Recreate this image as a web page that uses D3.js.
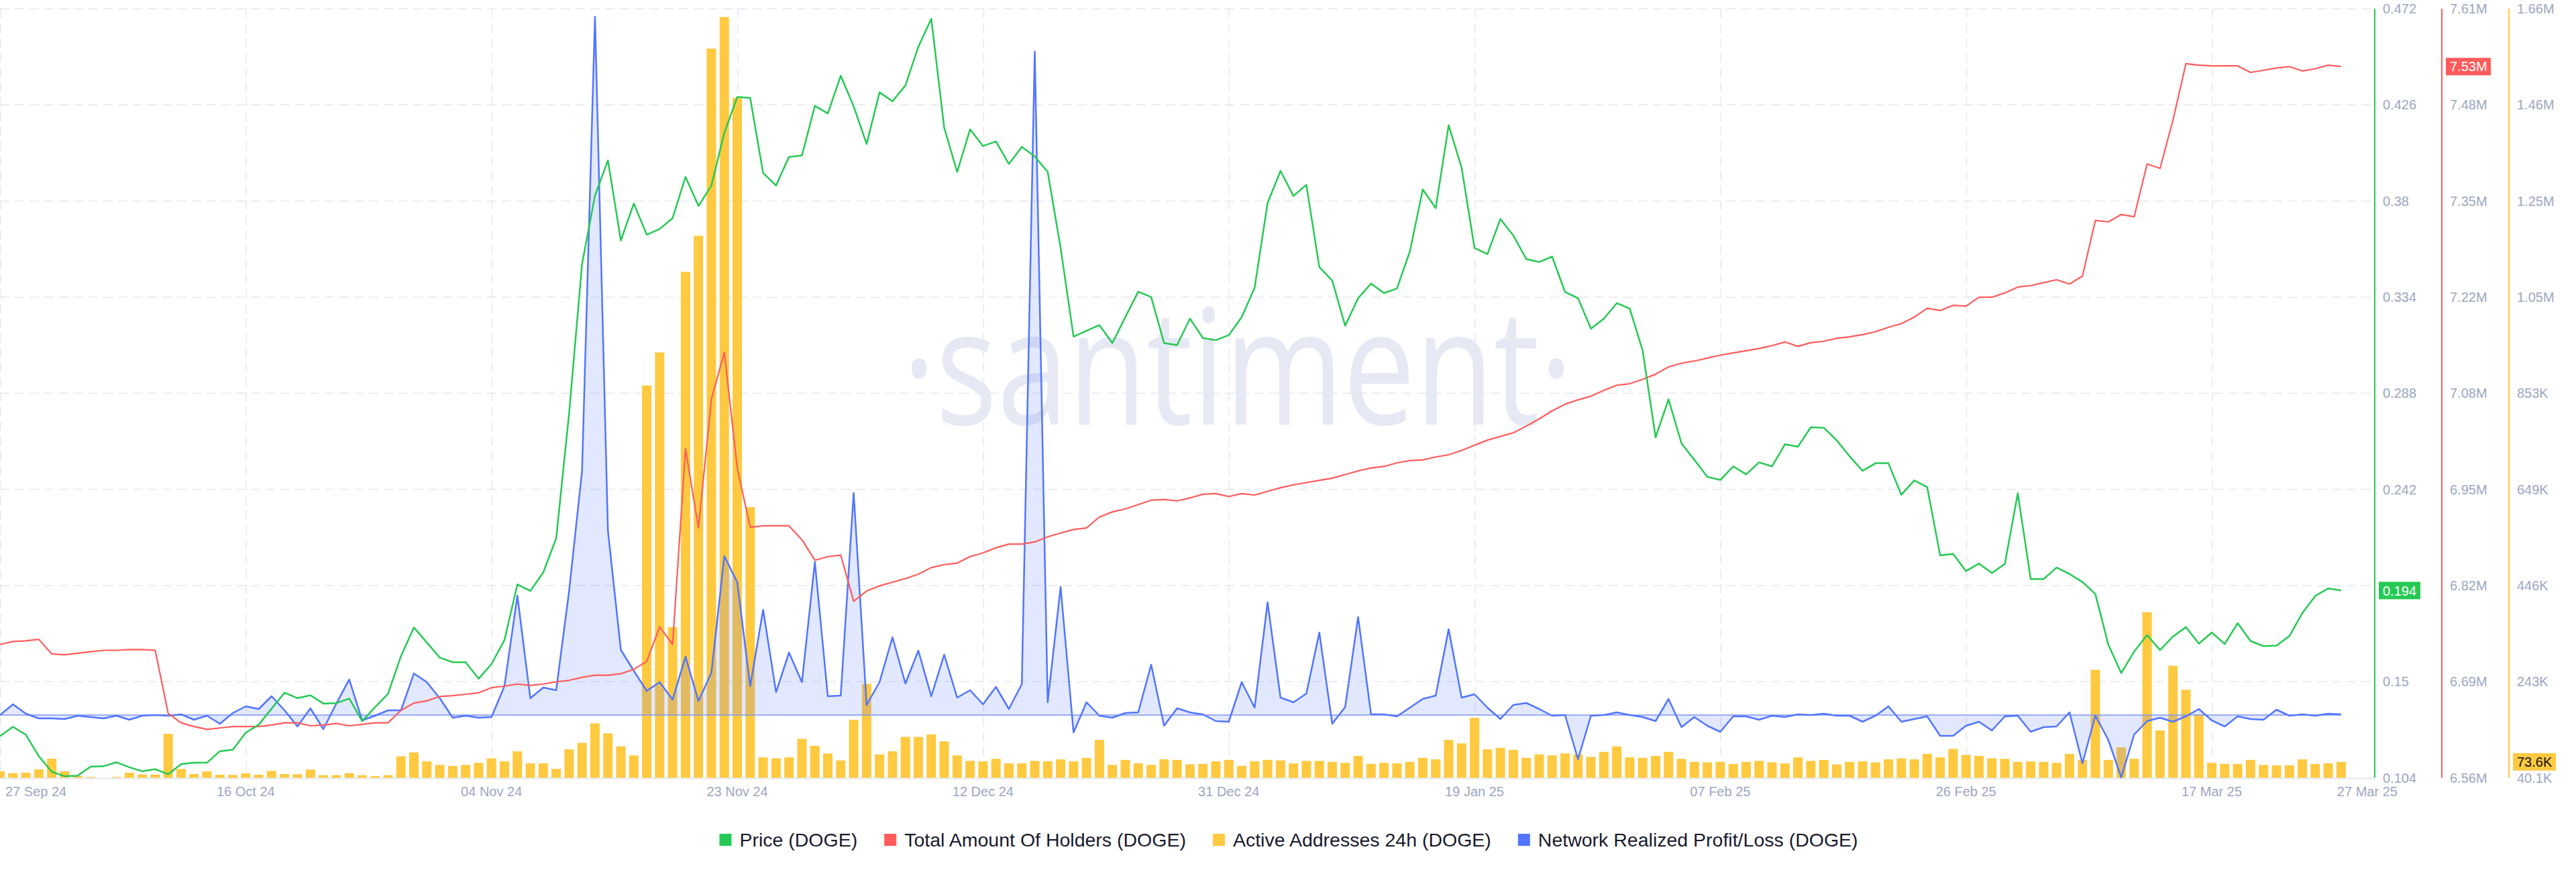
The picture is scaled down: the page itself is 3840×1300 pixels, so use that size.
<!DOCTYPE html>
<html>
<head>
<meta charset="utf-8">
<script src="https://cdn.jsdelivr.net/npm/d3@7"></script>
<style>
  html, body { margin: 0; padding: 0; background: #fff; }
  svg { display: block; font-family: "Liberation Sans", Arial, sans-serif; }
</style>
</head>
<body>
<div id="chart"></div>
<script>
// daily series, 27 Sep 24 .. 27 Mar 25
const price = [
  0.1239, 0.1284, 0.1246, 0.1143, 0.1069, 0.1047, 0.1050, 0.1093, 0.1095, 0.1114,
  0.1090, 0.1071, 0.1081, 0.1057, 0.1105, 0.1112, 0.1112, 0.1167, 0.1174, 0.1256,
  0.1294, 0.1371, 0.1447, 0.1421, 0.1435, 0.1395, 0.1397, 0.1419, 0.1311, 0.1378,
  0.1442, 0.1622, 0.1759, 0.1687, 0.1615, 0.1593, 0.1593, 0.1514, 0.1584, 0.1699,
  0.1965, 0.1934, 0.2022, 0.2185, 0.2784, 0.3498, 0.3826, 0.3994, 0.3611, 0.3788,
  0.3639, 0.3666, 0.3718, 0.3915, 0.3776, 0.3874, 0.4126, 0.4298, 0.4293, 0.3934,
  0.3874, 0.4011, 0.4018, 0.4255, 0.4219, 0.4399, 0.4253, 0.4073, 0.4320, 0.4277,
  0.4353, 0.4538, 0.4672, 0.4150, 0.3939, 0.4143, 0.4063, 0.4085, 0.3977, 0.4059,
  0.4013, 0.3939, 0.3575, 0.3151, 0.3179, 0.3206, 0.3120, 0.3244, 0.3366, 0.3340,
  0.3120, 0.3110, 0.3237, 0.3144, 0.3134, 0.3158, 0.3244, 0.3385, 0.3790, 0.3944,
  0.3824, 0.3877, 0.3484, 0.3419, 0.3203, 0.3335, 0.3405, 0.3359, 0.3381, 0.3558,
  0.3855, 0.3766, 0.4162, 0.3960, 0.3575, 0.3546, 0.3714, 0.3635, 0.3522, 0.3508,
  0.3534, 0.3364, 0.3335, 0.3189, 0.3237, 0.3311, 0.3285, 0.3084, 0.2669, 0.2851,
  0.2640, 0.2561, 0.2480, 0.2465, 0.2530, 0.2492, 0.2549, 0.2530, 0.2636, 0.2624,
  0.2717, 0.2715, 0.2655, 0.2578, 0.2509, 0.2545, 0.2545, 0.2394, 0.2463, 0.2430,
  0.2104, 0.2111, 0.2029, 0.2065, 0.2020, 0.2063, 0.2401, 0.1991, 0.1991, 0.2046,
  0.2015, 0.1977, 0.1919, 0.1677, 0.1541, 0.1644, 0.1723, 0.1651, 0.1716, 0.1761,
  0.1682, 0.1735, 0.1680, 0.1780, 0.1694, 0.1670, 0.1672, 0.1718, 0.1828, 0.1910,
  0.1946, 0.1936
];

// millions of holders
const holders = [
  6.742, 6.746, 6.747, 6.749, 6.729, 6.728, 6.730, 6.732, 6.734, 6.734,
  6.735, 6.735, 6.734, 6.648, 6.635, 6.630, 6.626, 6.628, 6.630, 6.630,
  6.630, 6.632, 6.635, 6.635, 6.631, 6.632, 6.634, 6.631, 6.633, 6.635,
  6.635, 6.652, 6.662, 6.665, 6.671, 6.672, 6.674, 6.676, 6.683, 6.685,
  6.688, 6.686, 6.688, 6.691, 6.693, 6.697, 6.700, 6.700, 6.702, 6.708,
  6.719, 6.766, 6.742, 7.009, 6.901, 7.077, 7.141, 6.983, 6.902, 6.904,
  6.904, 6.904, 6.885, 6.857, 6.862, 6.864, 6.801, 6.815, 6.822, 6.827,
  6.832, 6.838, 6.847, 6.851, 6.853, 6.862, 6.867, 6.874, 6.879, 6.879,
  6.882, 6.889, 6.894, 6.899, 6.901, 6.916, 6.923, 6.927, 6.933, 6.939,
  6.940, 6.938, 6.942, 6.947, 6.948, 6.944, 6.948, 6.946, 6.951, 6.956,
  6.960, 6.963, 6.966, 6.969, 6.974, 6.979, 6.983, 6.985, 6.990, 6.993,
  6.994, 6.998, 7.001, 7.007, 7.014, 7.021, 7.026, 7.031, 7.040, 7.050,
  7.061, 7.070, 7.076, 7.081, 7.089, 7.096, 7.098, 7.104, 7.111, 7.121,
  7.126, 7.129, 7.133, 7.137, 7.140, 7.143, 7.146, 7.150, 7.155, 7.149,
  7.154, 7.156, 7.160, 7.162, 7.165, 7.169, 7.175, 7.180, 7.189, 7.201,
  7.198, 7.205, 7.204, 7.216, 7.216, 7.222, 7.230, 7.232, 7.236, 7.240,
  7.234, 7.245, 7.321, 7.319, 7.329, 7.326, 7.398, 7.392, 7.458, 7.535,
  7.533, 7.532, 7.532, 7.532, 7.523, 7.526, 7.529, 7.531, 7.525, 7.528,
  7.533, 7.531
];

// thousands of addresses
const active = [
  53.5, 49.7, 50.7, 57.8, 80.4, 53.5, 44.0, 41.8, 40.1, 41.8,
  50.7, 46.9, 46.9, 132.6, 58.7, 47.9, 53.5, 46.5, 46.1, 49.3,
  46.5, 54.5, 47.9, 47.5, 57.3, 45.5, 45.5, 49.7, 45.5, 43.6,
  45.5, 85.2, 93.6, 74.6, 67.2, 65.1, 67.2, 71.4, 80.9, 74.6,
  95.7, 70.4, 70.4, 58.8, 99.9, 113.6, 154.7, 133.6, 106.2, 87.2,
  866.4, 936.0, 357.2, 1105.8, 1181.7, 1576.0, 1642.5, 1471.7, 610.2, 83.0,
  80.9, 83.0, 122.0, 107.3, 91.4, 76.7, 162.1, 238.0, 89.3, 95.7,
  126.2, 126.2, 131.5, 116.8, 87.2, 75.6, 74.6, 79.9, 70.4, 70.4,
  75.6, 74.6, 78.8, 74.6, 82.0, 119.9, 67.2, 77.7, 70.4, 67.2,
  78.8, 77.7, 68.3, 69.3, 74.6, 77.7, 65.1, 74.6, 77.7, 76.7,
  70.4, 75.6, 75.6, 73.5, 71.4, 86.2, 69.3, 71.4, 70.4, 73.5,
  82.0, 78.8, 119.9, 112.5, 166.3, 99.9, 103.0, 98.8, 82.0, 89.3,
  87.2, 91.4, 89.3, 84.1, 94.6, 106.2, 83.0, 82.0, 86.2, 94.6,
  79.9, 73.5, 72.5, 73.5, 69.3, 73.5, 75.6, 72.5, 70.4, 83.0,
  75.6, 77.7, 68.3, 73.5, 74.6, 72.5, 78.8, 80.9, 78.8, 90.4,
  83.0, 100.9, 88.3, 86.2, 80.9, 79.9, 73.5, 74.6, 73.5, 71.4,
  90.4, 77.7, 267.5, 77.7, 104.1, 79.9, 388.8, 140.0, 276.0, 225.4,
  172.6, 71.4, 69.3, 69.3, 77.7, 67.2, 66.2, 66.2, 78.8, 69.3,
  70.4, 73.6
];

// network realized profit/loss, millions USD (axis hidden)
const realizedPL = [
  0, 16, 2, -5, -5, -6, -1, -3, -5, -1,
  -7, -1, 0, -1, 1, -7, -1, -13, 3, 13,
  9, 28, 7, -17, 10, -21, 17, 53, -8, -1,
  7, 7, 62, 49, 25, -4, -1, -4, -3, 43,
  178, 25, 41, 37, 185, 364, 1041, 275, 97, 66,
  36, 49, 23, 87, 21, 63, 237, 198, 43, 157,
  34, 93, 49, 228, 28, 29, 331, 15, 49, 116,
  47, 96, 28, 90, 26, 37, 16, 42, 9, 46,
  989, 19, 191, -26, 19, -1, -4, 3, 4, 75,
  -16, 10, 4, 1, -9, -10, 49, 11, 168, 26,
  19, 32, 123, -13, 12, 146, 1, 1, -2, 11,
  24, 29, 128, 26, 31, 11, -6, 15, 18, 9,
  -1, 0, -66, -1, 0, 4, 0, -3, -9, 24,
  -18, -3, -16, -25, -2, -2, -7, -1, -3, 1,
  0, 2, -1, -1, -10, -1, 13, -10, -6, -2,
  -31, -31, -16, -10, -23, -2, -1, -25, -18, -17,
  4, -72, -1, -37, -93, -29, -9, -4, -10, -2,
  9, -8, -17, -2, -6, -7, 8, -1, 1, -1,
  2, 1
];

const xTickLabels = ['27 Sep 24', '16 Oct 24', '04 Nov 24', '23 Nov 24', '12 Dec 24', '31 Dec 24',
  '19 Jan 25', '07 Feb 25', '26 Feb 25', '17 Mar 25', '27 Mar 25'];
const xTickDates = ['2024-09-27', '2024-10-16', '2024-11-04', '2024-11-23', '2024-12-12', '2024-12-31',
  '2025-01-19', '2025-02-07', '2025-02-26', '2025-03-17', '2025-03-27'];
const priceTicks = ['0.104', '0.15', '0.196', '0.242', '0.288', '0.334', '0.38', '0.426', '0.472'];
const holderTicks = ['6.56M', '6.69M', '6.82M', '6.95M', '7.08M', '7.22M', '7.35M', '7.48M', '7.61M'];
const activeTicks = ['40.1K', '243K', '446K', '649K', '853K', '1.05M', '1.25M', '1.46M', '1.66M'];

const legendItems = [
  { label: 'Price (DOGE)', color: '#26c953' },
  { label: 'Total Amount Of Holders (DOGE)', color: '#ff5b5b' },
  { label: 'Active Addresses 24h (DOGE)', color: '#ffc940' },
  { label: 'Network Realized Profit/Loss (DOGE)', color: '#5275ff' }
];

const W= 3840, H= 1300;
const plot= { l: 0, r: 3540, t: 13, b: 1159.5 };
const DAY= 864e5;
const start= Date.UTC(2024, 8, 27);
const days= price.map((_, i) => new Date(start + i*DAY));

const svg= d3.select('#chart').append('svg')
  .attr('width', W).attr('height', H);

const x= d3.scaleUtc().domain([new Date(start), new Date(start + 183.6*DAY)]).range([plot.l, plot.r]);
const yPrice= d3.scaleLinear().domain([0.104, 0.472]).range([plot.b, plot.t]);
const yHold= d3.scaleLinear().domain([6.56, 7.61]).range([plot.b, plot.t]);
const yAct= d3.scaleLinear().domain([40.1, 1660]).range([plot.b, plot.t]);
const yPL= d3.scaleLinear().domain([-93.5, 1053]).range([plot.b, plot.t]);

const evenTicks= (sc, n) => { const [a, b]= sc.domain(); return d3.range(n).map(i => a + i*(b-a)/(n-1)); };
const tickDates= xTickDates.map(s => new Date(s + 'T00:00:00Z'));

// watermark
svg.append('text')
  .attr('x', 1845).attr('y', 633)
  .attr('text-anchor', 'middle')
  .attr('font-family', '"Open Sans", sans-serif')
  .attr('font-size', 240)
  .attr('textLength', 1000)
  .attr('lengthAdjust', 'spacingAndGlyphs')
  .attr('fill', '#e6e9f3')
  .text('\u00b7santiment\u00b7');

// grid
const grid= svg.append('g').attr('stroke', '#e6e8f1').attr('stroke-width', 1.5).attr('stroke-dasharray', '14,8');
grid.selectAll('line.h').data(evenTicks(yPrice, 9).slice(1)).join('line')
  .attr('x1', plot.l).attr('x2', plot.r)
  .attr('y1', d => yPrice(d)).attr('y2', d => yPrice(d));
grid.selectAll('line.v').data(tickDates.slice(0, -1)).join('line')
  .attr('x1', d => x(d) + 0.75).attr('x2', d => x(d) + 0.75)
  .attr('y1', plot.t).attr('y2', plot.b);

svg.append('line')
  .attr('x1', plot.l).attr('x2', plot.r)
  .attr('y1', plot.b + 1).attr('y2', plot.b + 1)
  .attr('stroke', '#e3e6ef').attr('stroke-width', 2);

// active addresses bars
const barW= 14;
svg.append('g').selectAll('rect').data(active).join('rect')
  .attr('x', (d, i) => x(days[i]) - barW/2)
  .attr('width', barW)
  .attr('y', d => yAct(d))
  .attr('height', d => plot.b - yAct(d))
  .attr('fill', '#ffc940');

// network realized P/L
const plArea= d3.area()
  .x((d, i) => x(days[i]))
  .y0(yPL(0))
  .y1(d => yPL(d));
svg.append('path').datum(realizedPL)
  .attr('d', plArea)
  .attr('fill', 'rgba(82,117,255,0.17)');
svg.append('line')
  .attr('x1', x(days[0])).attr('x2', x(days[days.length-1]))
  .attr('y1', yPL(0)).attr('y2', yPL(0))
  .attr('stroke', '#7d95f7').attr('stroke-width', 1.5);

const lineOf= sc => d3.line().x((d, i) => x(days[i])).y(d => sc(d));

svg.append('path').datum(realizedPL)
  .attr('d', lineOf(yPL))
  .attr('fill', 'none').attr('stroke', '#5275ff').attr('stroke-width', 2.5)
  .attr('stroke-linejoin', 'round');

svg.append('path').datum(holders)
  .attr('d', lineOf(yHold))
  .attr('fill', 'none').attr('stroke', '#ff5b5b').attr('stroke-width', 2.2)
  .attr('stroke-linejoin', 'round');

svg.append('path').datum(price)
  .attr('d', lineOf(yPrice))
  .attr('fill', 'none').attr('stroke', '#26c953').attr('stroke-width', 2.5)
  .attr('stroke-linejoin', 'round');

// last-value badges
const badges= [
  { axis: 0, x0: 3546, w: 62, y: yPrice(price[price.length-1]), text: d3.format('.3f')(price[price.length-1]), bg: '#26c953', fg: '#fff' },
  { axis: 1, x0: 3646, w: 67, y: yHold(holders[holders.length-1]), text: holders[holders.length-1].toFixed(2) + 'M', bg: '#ff5b5b', fg: '#fff' },
  { axis: 2, x0: 3746, w: 64, y: yAct(active[active.length-1]), text: active[active.length-1].toFixed(1) + 'K', bg: '#ffc940', fg: '#111' }
];

// right axes (a tick label hidden under its axis badge is not drawn)
const axes= [
  { sc: yPrice, x0: 3540, labels: priceTicks, color: '#26c953' },
  { sc: yHold, x0: 3640, labels: holderTicks, color: '#ff5b5b' },
  { sc: yAct, x0: 3740, labels: activeTicks, color: '#ffc940' }
];
axes.forEach((a, k) => {
  const g= svg.append('g');
  g.append('line')
    .attr('x1', a.x0).attr('x2', a.x0)
    .attr('y1', plot.t).attr('y2', plot.b)
    .attr('stroke', a.color).attr('stroke-width', 2);
  const ticks= evenTicks(a.sc, 9).map((v, i) => ({ v, label: a.labels[i] }))
    .filter((t, i) => i === 0 || Math.abs(a.sc(t.v) - badges[k].y) > 20);
  g.selectAll('text').data(ticks).join('text')
    .attr('x', a.x0 + 12)
    .attr('y', d => a.sc(d.v))
    .attr('dy', '0.35em')
    .attr('font-size', 20)
    .attr('fill', '#9ba6c2')
    .text(d => d.label);
});

badges.forEach(b => {
  svg.append('rect')
    .attr('x', b.x0).attr('y', b.y - 13)
    .attr('width', b.w).attr('height', 26)
    .attr('fill', b.bg);
  svg.append('text')
    .attr('x', b.x0 + 6).attr('y', b.y)
    .attr('dy', '0.36em')
    .attr('font-size', 20)
    .attr('fill', b.fg)
    .text(b.text);
});

// x tick labels
svg.append('g').selectAll('text').data(tickDates).join('text')
  .attr('x', (d, i) => i === 0 ? 8 : (i === tickDates.length-1 ? x(d) - 6 : x(d)))
  .attr('y', 1180)
  .attr('dy', '0.35em')
  .attr('text-anchor', (d, i) => (i === 0 || i === tickDates.length-1) ? 'start' : 'middle')
  .attr('font-size', 20)
  .attr('fill', '#9ba6c2')
  .text((d, i) => xTickLabels[i]);

// legend
const lg= svg.append('g');
let lx= 0;
legendItems.forEach(it => {
  const item= lg.append('g').attr('transform', `translate(${lx},0)`);
  item.append('rect')
    .attr('x', 0).attr('y', 1243)
    .attr('width', 18).attr('height', 18)
    .attr('fill', it.color);
  const t= item.append('text')
    .attr('x', 30).attr('y', 1252)
    .attr('dy', '0.35em')
    .attr('font-size', 28.5)
    .attr('fill', '#181a2c')
    .text(it.label);
  lx += 30 + t.node().getComputedTextLength() + 40;
});
lx -= 40;
lg.attr('transform', `translate(${1921 - lx/2},0)`);
</script>
</body>
</html>
